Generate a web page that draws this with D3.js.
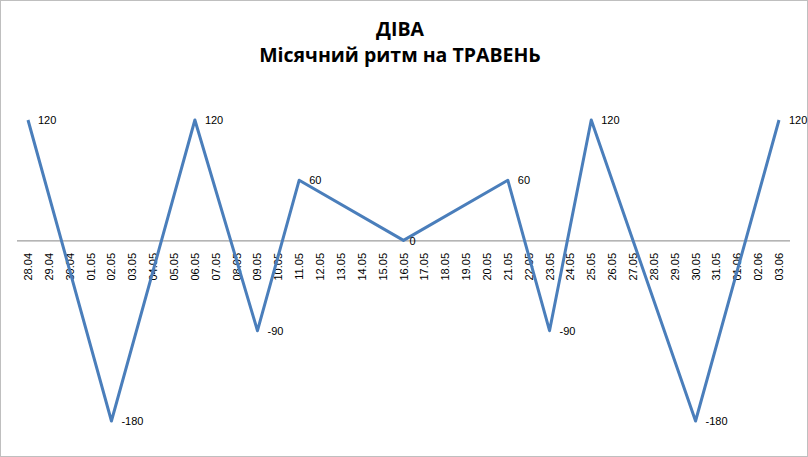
<!DOCTYPE html>
<html><head><meta charset="utf-8">
<script src="https://cdn.jsdelivr.net/npm/d3@7"></script>
<style>body{margin:0;background:#fff}svg{display:block}</style></head>
<body><svg id="c" width="808" height="457"></svg>
<script>
const categories = ["28.04","29.04","30.04","01.05","02.05","03.05","04.05","05.05","06.05","07.05","08.05","09.05","10.05","11.05","12.05","13.05","14.05","15.05","16.05","17.05","18.05","19.05","20.05","21.05","22.05","23.05","24.05","25.05","26.05","27.05","28.05","29.05","30.05","31.05","01.06","02.06","03.06"];
const pointDates = ["28.04","02.05","06.05","09.05","11.05","16.05","21.05","23.05","25.05","30.05","03.06"];
const pointValues = [120,-180,120,-90,60,0,60,-90,120,-180,120];
const titleLines = ["ДІВА","Місячний ритм на ТРАВЕНЬ"];

const svg = d3.select("#c");
svg.append("rect").attr("x",0.5).attr("y",0.5).attr("width",807).attr("height",456).attr("fill","#fff").attr("stroke","#bfbfbf");
titleLines.forEach((t,i)=>svg.append("text").attr("x",400).attr("y",36+i*26).attr("text-anchor","middle")
  .attr("font-family","Open Sans, sans-serif").attr("font-weight","bold").attr("font-size",19.5).text(t));

const x = d3.scalePoint().domain(categories).range([28,779]);
const y = d3.scaleLinear().domain([-180,120]).range([421,120]);

svg.append("line").attr("x1",17).attr("x2",790).attr("y1",y(0)+0.5).attr("y2",y(0)+0.5).attr("stroke","#868686");

svg.append("g").selectAll("text").data(categories).join("text")
  .attr("transform",d=>`translate(${x(d)+4},253) rotate(-90)`)
  .attr("text-anchor","end").attr("font-family","Liberation Sans, Arial, sans-serif").attr("font-size",11)
  .text(d=>d);

const pts = pointDates.map((d,i)=>({d,v:pointValues[i]}));
svg.append("path").datum(pts).attr("fill","none").attr("stroke","#4a7ebb").attr("stroke-width",3)
  .attr("stroke-linejoin","round")
  .attr("d",d3.line().x(p=>x(p.d)).y(p=>y(p.v)));

svg.append("g").selectAll("text").data(pts).join("text")
  .attr("x",p=>x(p.d)+ (p.v===0?6:10)).attr("y",p=>y(p.v)+ (p.v===0?5:4))
  .attr("font-family","Liberation Sans, Arial, sans-serif").attr("font-size",11)
  .text(p=>p.v);
</script></body></html>
